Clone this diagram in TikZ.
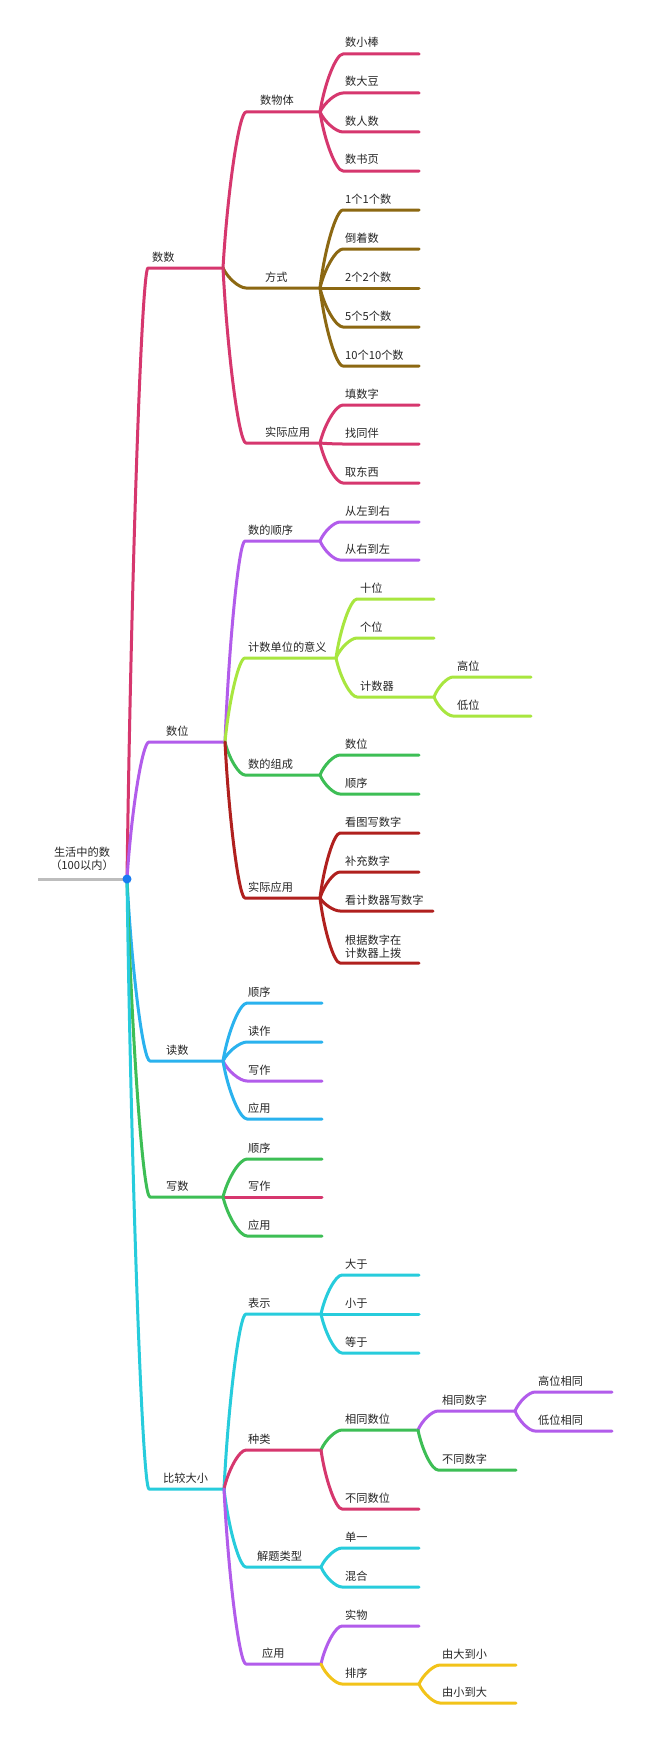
\documentclass[tikz,border=0pt]{standalone}
\usepackage{fontspec}
\setmainfont{Noto Sans CJK SC}
\usetikzlibrary{calc}
\definecolor{cPink}{RGB}{214,55,110}
\definecolor{cOlive}{RGB}{140,104,18}
\definecolor{cPurple}{RGB}{178,92,235}
\definecolor{cLime}{RGB}{168,230,63}
\definecolor{cGreen}{RGB}{61,190,85}
\definecolor{cRed}{RGB}{176,32,30}
\definecolor{cBlue}{RGB}{42,178,238}
\definecolor{cCyan}{RGB}{39,204,220}
\definecolor{cYellow}{RGB}{242,195,25}
\definecolor{cGray}{RGB}{189,189,189}
\definecolor{cDot}{RGB}{26,124,242}
\tikzset{
  mm/.style={to path={let \p1=(\tikztostart), \p2=(\tikztotarget) in
    .. controls ({\x1+0.2*(\x2-\x1)},{\y1+0.5*(\y2-\y1)}) and ({\x1+0.7*(\x2-\x1)},\y2) .. (\tikztotarget)}},
  wire/.style={line width=3pt, line cap=round, line join=round},
  lbl/.style={anchor=base west, inner sep=0pt, font=\fontsize{11.2}{13}\selectfont, text=black!85},
}
\newcommand{\mmbr}[8]{%
  \coordinate (#1-s) at (#4,#5);
  \coordinate (#1) at (#6,#5);
  \node[lbl] (#1-t) at (#7,{#5-7}) {#8};
  \draw[wire,#2] (#3) to[mm] (#1-s) -- (#1);
}
\begin{document}
\begin{tikzpicture}[x=1pt,y=-1pt]
\useasboundingbox[fill=white] (0,0) rectangle (650,1758);
% root
\coordinate (root) at (127,879);
\coordinate (root-w) at (38,879);
\draw[wire,cGray,line cap=butt] (root-w) -- (root);
\node[lbl,anchor=center,align=center] (root-t) at (82,859) {生活中的数\\（100以内）};
% level 1
\mmbr{shushu}{cPink}{root}{148}{268}{223}{152}{数数}
\mmbr{shuwei}{cPurple}{root}{149}{742}{225}{166}{数位}
\mmbr{dushu}{cBlue}{root}{150}{1061}{223}{166}{读数}
\mmbr{xieshu}{cGreen}{root}{150}{1197}{223}{166}{写数}
\mmbr{bijiao}{cCyan}{root}{149}{1489}{224}{163}{比较大小}
% 数数
\mmbr{wuti}{cPink}{shushu}{246}{112}{320}{260}{数物体}
\mmbr{fangshi}{cOlive}{shushu}{246}{288}{320}{265}{方式}
\mmbr{yya}{cPink}{shushu}{246}{443}{320}{265}{实际应用}
\mmbr{a1}{cPink}{wuti}{343}{54}{419}{345}{数小棒}
\mmbr{a2}{cPink}{wuti}{343}{93}{419}{345}{数大豆}
\mmbr{a3}{cPink}{wuti}{343}{132}{419}{345}{数人数}
\mmbr{a4}{cPink}{wuti}{343}{171}{419}{345}{数书页}
\mmbr{b1}{cOlive}{fangshi}{343}{210}{419}{345}{1个1个数}
\mmbr{b2}{cOlive}{fangshi}{343}{249}{419}{345}{倒着数}
\mmbr{b3}{cOlive}{fangshi}{343}{288}{419}{345}{2个2个数}
\mmbr{b4}{cOlive}{fangshi}{343}{327}{419}{345}{5个5个数}
\mmbr{b5}{cOlive}{fangshi}{343}{366}{419}{345}{10个10个数}
\mmbr{c1}{cPink}{yya}{343}{405}{419}{345}{填数字}
\mmbr{c2}{cPink}{yya}{343}{444}{419}{345}{找同伴}
\mmbr{c3}{cPink}{yya}{343}{483}{419}{345}{取东西}
% 数位
\mmbr{shunxu}{cPurple}{shuwei}{245}{541}{320}{248}{数的顺序}
\mmbr{jishu}{cLime}{shuwei}{245}{658}{336}{248}{计数单位的意义}
\mmbr{zucheng}{cGreen}{shuwei}{245}{775}{320}{248}{数的组成}
\mmbr{yyb}{cRed}{shuwei}{245}{898}{320}{248}{实际应用}
\mmbr{d1}{cPurple}{shunxu}{340}{522}{419}{345}{从左到右}
\mmbr{d2}{cPurple}{shunxu}{340}{560}{419}{345}{从右到左}
\mmbr{e1}{cLime}{jishu}{357}{599}{434}{360}{十位}
\mmbr{e2}{cLime}{jishu}{357}{638}{434}{360}{个位}
\mmbr{jsq}{cLime}{jishu}{357}{697}{434}{360}{计数器}
\mmbr{f1}{cLime}{jsq}{453}{677}{531}{457}{高位}
\mmbr{f2}{cLime}{jsq}{453}{716}{531}{457}{低位}
\mmbr{g1}{cGreen}{zucheng}{340}{755}{419}{345}{数位}
\mmbr{g2}{cGreen}{zucheng}{340}{794}{419}{345}{顺序}
\mmbr{h1}{cRed}{yyb}{340}{833}{419}{345}{看图写数字}
\mmbr{h2}{cRed}{yyb}{340}{872}{419}{345}{补充数字}
\mmbr{h3}{cRed}{yyb}{340}{911}{433}{345}{看计数器写数字}
\coordinate (h4-s) at (340,963);
\coordinate (h4) at (419,963);
\node[lbl,align=left,anchor=south west] (h4-t) at (345,959) {根据数字在\\计数器上拨};
\draw[wire,cRed] (yyb) to[mm] (h4-s) -- (h4);
% 读数
\mmbr{i1}{cBlue}{dushu}{247}{1003}{322}{248}{顺序}
\mmbr{i2}{cBlue}{dushu}{247}{1042}{322}{248}{读作}
\mmbr{i3}{cPurple}{dushu}{247}{1081}{322}{248}{写作}
\mmbr{i4}{cBlue}{dushu}{247}{1119}{322}{248}{应用}
% 写数
\mmbr{j1}{cGreen}{xieshu}{247}{1159}{322}{248}{顺序}
\mmbr{j2}{cPink}{xieshu}{247}{1197}{322}{248}{写作}
\mmbr{j3}{cGreen}{xieshu}{247}{1236}{322}{248}{应用}
% 比较大小
\mmbr{biaoshi}{cCyan}{bijiao}{246}{1314}{321}{248}{表示}
\mmbr{zhonglei}{cPink}{bijiao}{246}{1450}{321}{248}{种类}
\mmbr{jieti}{cCyan}{bijiao}{246}{1567}{321}{257}{解题类型}
\mmbr{yingyong}{cPurple}{bijiao}{246}{1664}{321}{262}{应用}
\mmbr{k1}{cCyan}{biaoshi}{342}{1275}{419}{345}{大于}
\mmbr{k2}{cCyan}{biaoshi}{342}{1314}{419}{345}{小于}
\mmbr{k3}{cCyan}{biaoshi}{342}{1353}{419}{345}{等于}
\mmbr{tsw}{cGreen}{zhonglei}{342}{1430}{418}{345}{相同数位}
\mmbr{btsw}{cPink}{zhonglei}{342}{1509}{419}{345}{不同数位}
\mmbr{tsz}{cPurple}{tsw}{438}{1411}{515}{442}{相同数字}
\mmbr{btsz}{cGreen}{tsw}{438}{1470}{516}{442}{不同数字}
\mmbr{m1}{cPurple}{tsz}{535}{1392}{612}{538}{高位相同}
\mmbr{m2}{cPurple}{tsz}{535}{1431}{612}{538}{低位相同}
\mmbr{n1}{cCyan}{jieti}{342}{1548}{419}{345}{单一}
\mmbr{n2}{cCyan}{jieti}{342}{1587}{419}{345}{混合}
\mmbr{p1}{cPurple}{yingyong}{342}{1626}{419}{345}{实物}
\mmbr{paixu}{cYellow}{yingyong}{342}{1684}{419}{345}{排序}
\mmbr{q1}{cYellow}{paixu}{440}{1665}{516}{442}{由大到小}
\mmbr{q2}{cYellow}{paixu}{440}{1703}{516}{442}{由小到大}
% root dot
\fill[cDot] (root) circle (4.5);
\end{tikzpicture}
\end{document}
